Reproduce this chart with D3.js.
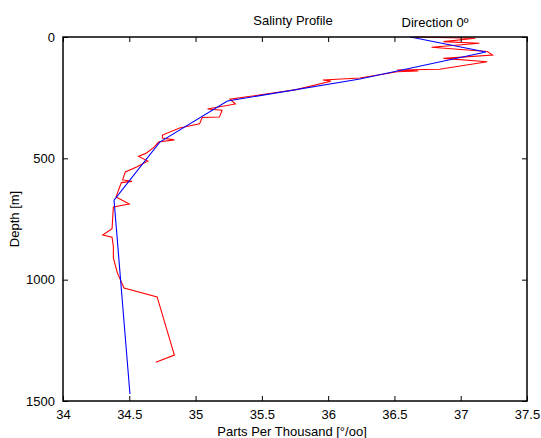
<!DOCTYPE html>
<html>
<head>
<meta charset="utf-8">
<script src="https://cdn.jsdelivr.net/npm/d3@7"></script>
<style>
  body { margin: 0; background: #fff; }
  text { font-family: "Liberation Sans", Arial, sans-serif; fill: #000; }
</style>
</head>
<body>
<svg class="chart"></svg>
<script>
// measured profile [salinity, depth]
var measured = [
  [36.65, 0], [37.11, 5], [36.87, 19], [37.14, 26], [36.78, 42], [37.20, 60],
  [37.24, 74], [36.87, 88], [37.20, 102], [36.84, 133], [36.52, 136], [36.68, 140],
  [36.52, 143], [36.24, 169], [35.96, 177], [36.02, 182], [35.75, 218], [35.26, 256],
  [35.30, 276], [35.09, 297], [35.20, 302], [35.18, 330], [35.05, 332], [35.03, 358],
  [34.88, 375], [34.75, 404], [34.75, 416], [34.84, 424], [34.72, 433], [34.69, 453],
  [34.63, 478], [34.57, 492], [34.64, 511], [34.56, 535], [34.47, 556], [34.45, 589],
  [34.52, 595], [34.44, 600], [34.40, 659], [34.50, 688], [34.38, 700], [34.37, 790],
  [34.30, 816], [34.37, 825], [34.38, 865], [34.38, 910], [34.41, 972], [34.46, 1034],
  [34.71, 1071], [34.84, 1311], [34.70, 1340]
];

// model profile [salinity, depth]
var model = [
  [36.62, 0], [37.19, 62], [36.24, 173], [35.24, 264], [34.73, 433],
  [34.385, 672], [34.505, 1471]
];

var xTicks = [34, 34.5, 35, 35.5, 36, 36.5, 37, 37.5];
var yTicks = [0, 500, 1000, 1500];

var W = 541, H = 438;
var margin = {top: 37, right: 14, bottom: 37, left: 63},
    width = W - margin.left - margin.right,
    height = H - margin.top - margin.bottom;

var svg = d3.select(".chart")
    .attr("width", W)
    .attr("height", H);

var chart = svg.append("g")
    .attr("transform", "translate(" + margin.left + "," + margin.top + ")");

// x - salinity, y - depth (down)
var x = d3.scaleLinear().domain([34, 37.5]).range([0, width]);
var y = d3.scaleLinear().domain([0, 1500]).range([0, height]);

var line = d3.line()
    .x(function(d) { return x(d[0]); })
    .y(function(d) { return y(d[1]); });

chart.append("path")
    .datum(measured)
    .attr("fill", "none")
    .attr("stroke", "#ff0000")
    .attr("stroke-width", 1.1)
    .attr("d", line);

chart.append("path")
    .datum(model)
    .attr("fill", "none")
    .attr("stroke", "#0000ff")
    .attr("stroke-width", 1.1)
    .attr("d", line);

// axes with inward ticks, box style
function styleAxis(g) {
  g.select(".domain").remove();
  g.selectAll("line").attr("stroke", "#000");
  g.selectAll("text").style("font-size", "13px");
}

chart.append("g")
    .attr("transform", "translate(0," + height + ")")
    .call(d3.axisBottom(x).tickValues(xTicks).tickSize(-5).tickPadding(9)
      .tickFormat(function(d) { return d; }))
    .call(styleAxis);

chart.append("g")
    .call(d3.axisTop(x).tickValues(xTicks).tickSize(-5).tickFormat(""))
    .call(styleAxis);

chart.append("g")
    .call(d3.axisLeft(y).tickValues(yTicks).tickSize(-5).tickPadding(8)
      .tickFormat(d3.format("d")))
    .call(styleAxis);

chart.append("g")
    .attr("transform", "translate(" + width + ",0)")
    .call(d3.axisRight(y).tickValues(yTicks).tickSize(-5).tickFormat(""))
    .call(styleAxis);

chart.append("rect")
    .attr("width", width)
    .attr("height", height)
    .attr("fill", "none")
    .attr("stroke", "#000")
    .attr("stroke-width", 1.5);

// titles
svg.append("text")
    .attr("x", 293).attr("y", 25)
    .attr("text-anchor", "middle")
    .style("font-size", "13px")
    .text("Salinty Profile");

svg.append("text")
    .attr("x", 435).attr("y", 27)
    .attr("text-anchor", "middle")
    .style("font-size", "13px")
    .text("Direction 0º");

svg.append("text")
    .attr("x", margin.left + width / 2 - 3).attr("y", 436)
    .attr("text-anchor", "middle")
    .style("font-size", "13px")
    .text("Parts Per Thousand [°/oo]");

svg.append("text")
    .attr("transform", "translate(19," + (margin.top + height / 2) + ") rotate(-90)")
    .attr("text-anchor", "middle")
    .style("font-size", "13px")
    .text("Depth [m]");
</script>
</body>
</html>
